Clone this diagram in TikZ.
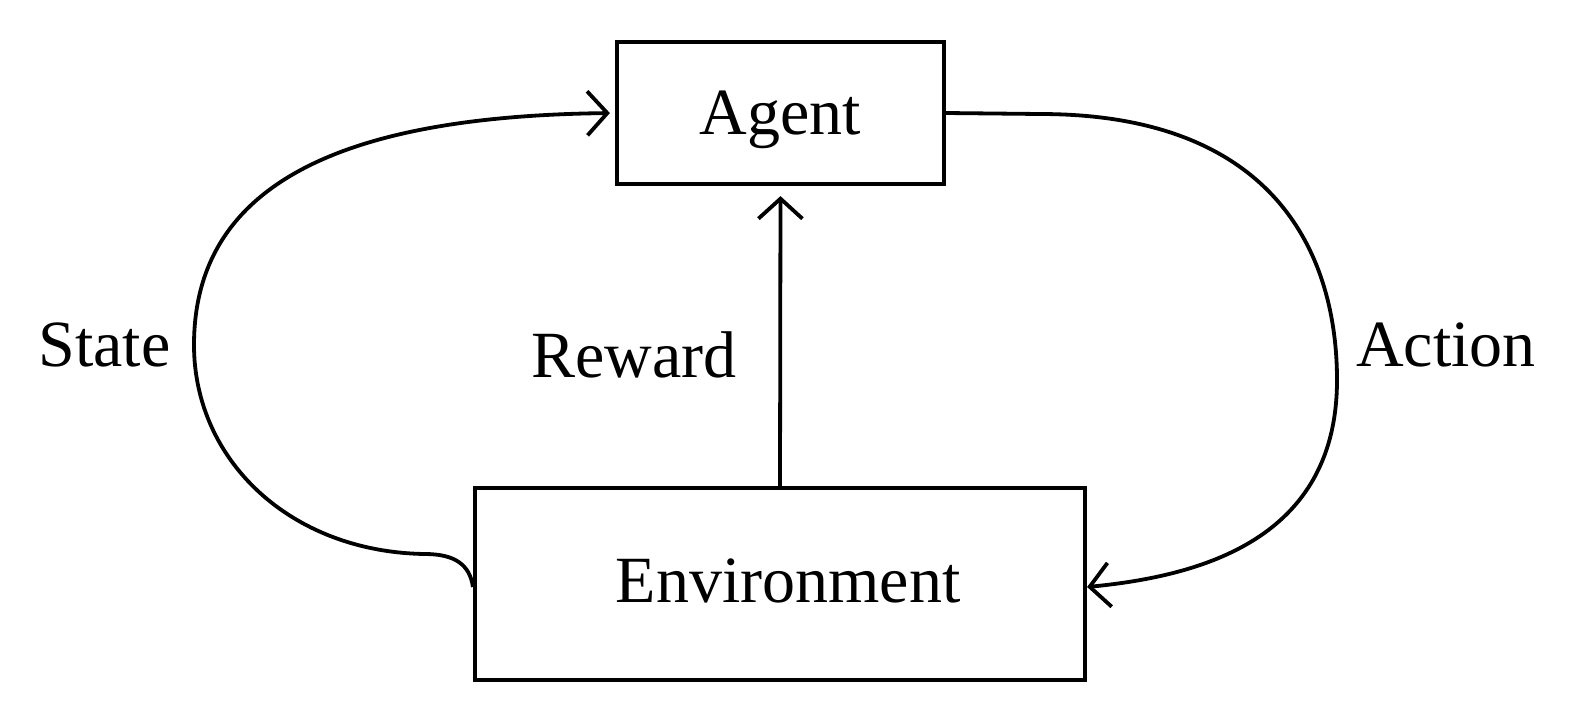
\documentclass[tikz,border=0pt]{standalone}
\usepackage{fontspec}
\setmainfont{Liberation Serif}
\usetikzlibrary{arrows.meta}
\begin{document}
\begin{tikzpicture}[x=1pt,y=-1pt,
  box/.style={draw,line width=4.2pt,rectangle,inner sep=0pt,text depth=0pt},
  lbl/.style={inner sep=0pt,text depth=0pt},
  conn/.style={line width=3.8pt,-{Straight Barb[length=20pt,width=44pt,line width=3.8pt]}},
  every node/.style={font=\fontsize{66pt}{70pt}\selectfont}]
\useasboundingbox (0,0) rectangle (1576,724);
\node[box,minimum width=327pt,minimum height=142pt] (agent) at (780.5,113) {Agent};
\node[box,minimum width=610pt,minimum height=192pt] (env) at (780,584) {};
\node[lbl] (envtxt) at (788,581) {Environment};
\node[lbl] (state) at (104.5,345) {State};
\node[lbl] (action) at (1446,345) {Action};
\node[lbl] (reward) at (634,355) {Reward};
\coordinate (sL) at (194,345);
\coordinate (aR) at (1337,380);
% reward
\draw[conn,shorten >=10pt] (env.north) -- (agent.south);
% state
\draw[conn,shorten >=5pt] ([yshift=-3pt]env.west) .. controls (470,565) and (455,554) .. (425,554)
  .. controls (290,552) and (194,460) .. (sL)
  .. controls (194,180) and (350,116) .. (agent.west);
% action
\draw[conn] (agent.east) -- (1040,114)
  .. controls (1280,114) and (1337,260) .. (aR)
  .. controls (1337,540) and (1200,576) .. ([yshift=-3pt]env.east);
\end{tikzpicture}
\end{document}
